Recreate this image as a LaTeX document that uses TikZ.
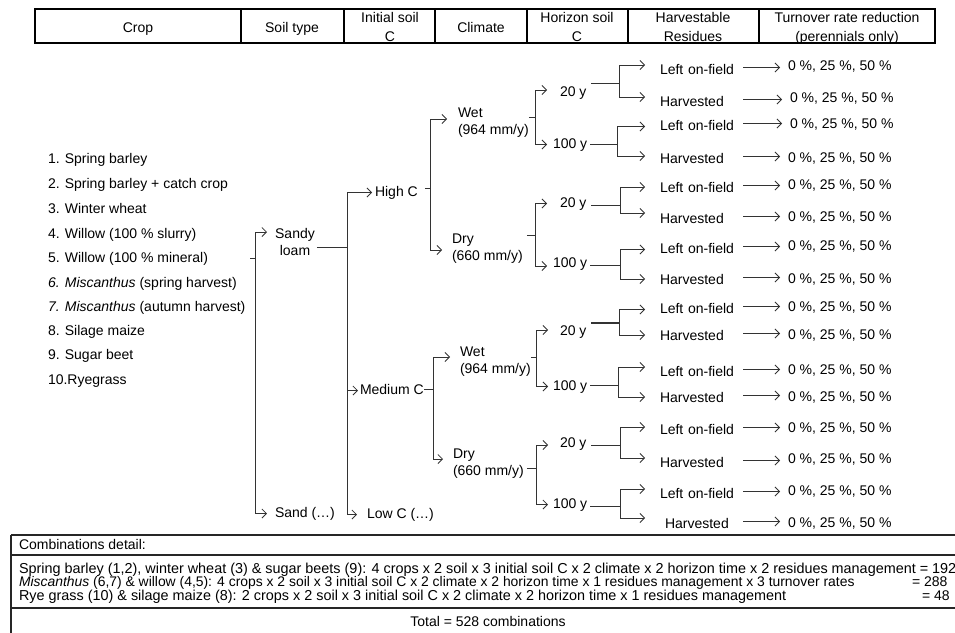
\documentclass[tikz,border=0pt]{standalone}
\usepackage{fontspec}
\setmainfont{Liberation Sans}
\usetikzlibrary{arrows.meta}
\newcommand\tzf{\fontsize{14}{17}\selectfont}
\newcommand\hzf{\fontsize{14}{19}\selectfont}
\newcommand\szf{\fontsize{14}{15}\selectfont}
\tikzset{
  ln/.style={draw=black!80, line width=0.8pt},
  arr/.style={ln, -{Straight Barb[length=4.5pt,width=9pt]}},
  lbl/.style={inner sep=0pt, outer sep=0pt, font=\tzf, text height=10pt, text depth=3pt, anchor=west},
  lbltwo/.style={inner sep=0pt, outer sep=0pt, font=\tzf, align=left, anchor=north west},
  res/.style={lbl, text width=80pt, align=left},
  hdr/.style={inner sep=0pt, outer sep=0pt, font=\hzf, align=center},
  lbls/.style={inner sep=0pt, outer sep=0pt, font=\szf, text height=10pt, text depth=3pt, anchor=west},
  frame/.style={draw=black, line width=2pt},
  boxline/.style={draw=black!85, line width=1.1pt}
}
\begin{document}
\begin{tikzpicture}[x=1pt,y=-1pt]
\useasboundingbox (0,0) rectangle (955,632);
% ---------- header ----------
\draw[frame] (35,9) rectangle (935,43);
\foreach \xx in {241,344,435,527,628,759} \draw[frame] (\xx,9) -- (\xx,43);
\node[hdr, anchor=base] (hcrop) at (138,32) {Crop};
\node[hdr, anchor=base] (hsoil) at (292,32) {Soil type};
\node[hdr, anchor=north] (hinit) at (390,12.5) {Initial soil\\C};
\node[hdr, anchor=base] (hclim) at (481,32) {Climate};
\node[hdr, anchor=north] (hhor) at (577,12.5) {Horizon soil\\C};
\node[hdr, anchor=north] (hres) at (693,12.5) {Harvestable\\Residues};
\node[hdr, anchor=north] (hturn) at (847,12.5) {Turnover rate reduction\\(perennials only)};
% ---------- crop list ----------
\node[lbl] (c1) at (48,159.5) {1. Spring barley};
\node[lbl] (c2) at (48,184.5) {2. Spring barley + catch crop};
\node[lbl] (c3) at (48,209.5) {3. Winter wheat};
\node[lbl] (c4) at (48,234.5) {4. Willow (100 \% slurry)};
\node[lbl] (c5) at (48,258.5) {5. Willow (100 \% mineral)};
\node[lbl] (c6) at (48,283.5) {\textit{6. Miscanthus} (spring harvest)};
\node[lbl] (c7) at (48,307.5) {\textit{7. Miscanthus} (autumn harvest)};
\node[lbl] (c8) at (48,331.5) {8. Silage maize};
\node[lbl] (c9) at (48,355.5) {9. Sugar beet};
\node[lbl] (c10) at (48,380.5) {10.Ryegrass};
% ---------- soil / initial C / climate nodes ----------
\node[hdr, font=\tzf, anchor=north] (sl) at (295,228) {Sandy\\loam};
\node[lbl] (sd) at (275,513.5) {Sand (…)};
\node[lbl] (hc) at (375,192.5) {High C};
\node[lbl] (mc) at (360,390.5) {Medium C};
\node[lbl] (lc) at (367,514.5) {Low C (…)};
\node[lbltwo] (w1) at (458,108) {Wet\\(964 mm/y)};
\node[lbltwo] (d1) at (452,234) {Dry\\(660 mm/y)};
\node[lbltwo] (w2) at (460,347) {Wet\\(964 mm/y)};
\node[lbltwo] (d2) at (453,449) {Dry\\(660 mm/y)};
% ---------- horizon ----------
\node[lbl] (h1) at (560,92.5) {20 y};
\node[lbl] (h2) at (553,144.5) {100 y};
\node[lbl] (h3) at (560,203.5) {20 y};
\node[lbl] (h4) at (553,263.5) {100 y};
\node[lbl] (h5) at (560,331.5) {20 y};
\node[lbl] (h6) at (553,386.5) {100 y};
\node[lbl] (h7) at (560,443.5) {20 y};
\node[lbl] (h8) at (553,504.5) {100 y};
% ---------- residues ----------
\node[res] (r1a) at (660,70.5) {Left on-field};
\node[res] (r1b) at (660,102.5) {Harvested};
\node[res] (r2a) at (660,126.5) {Left on-field};
\node[res] (r2b) at (660,159.5) {Harvested};
\node[res] (r3a) at (660,188.5) {Left on-field};
\node[res] (r3b) at (660,219.5) {Harvested};
\node[res] (r4a) at (660,249.5) {Left on-field};
\node[res] (r4b) at (660,280.5) {Harvested};
\node[res] (r5a) at (660,309.5) {Left on-field};
\node[res] (r5b) at (660,336.5) {Harvested};
\node[res] (r6a) at (660,372.5) {Left on-field};
\node[res] (r6b) at (660,398.5) {Harvested};
\node[res] (r7a) at (660,430.5) {Left on-field};
\node[res] (r7b) at (660,463.5) {Harvested};
\node[res] (r8a) at (660,494.5) {Left on-field};
\node[res, text width=75pt] (r8b) at (665,524.5) {Harvested};
% ---------- turnover ----------
\node[lbl] (p1a) at (788,66.5) {0 \%, 25 \%, 50 \%};
\node[lbl] (p1b) at (790,98.5) {0 \%, 25 \%, 50 \%};
\node[lbl] (p2a) at (790,124.5) {0 \%, 25 \%, 50 \%};
\node[lbl] (p2b) at (788,158.5) {0 \%, 25 \%, 50 \%};
\node[lbl] (p3a) at (788,185.5) {0 \%, 25 \%, 50 \%};
\node[lbl] (p3b) at (788,217.5) {0 \%, 25 \%, 50 \%};
\node[lbl] (p4a) at (788,246.5) {0 \%, 25 \%, 50 \%};
\node[lbl] (p4b) at (788,279.5) {0 \%, 25 \%, 50 \%};
\node[lbl] (p5a) at (788,307.5) {0 \%, 25 \%, 50 \%};
\node[lbl] (p5b) at (788,335.5) {0 \%, 25 \%, 50 \%};
\node[lbl] (p6a) at (788,370.5) {0 \%, 25 \%, 50 \%};
\node[lbl] (p6b) at (788,397.5) {0 \%, 25 \%, 50 \%};
\node[lbl] (p7a) at (788,428.5) {0 \%, 25 \%, 50 \%};
\node[lbl] (p7b) at (788,459.5) {0 \%, 25 \%, 50 \%};
\node[lbl] (p8a) at (788,491.5) {0 \%, 25 \%, 50 \%};
\node[lbl] (p8b) at (788,523.5) {0 \%, 25 \%, 50 \%};
% ---------- connectors: crop -> soil ----------
\coordinate (c0) at (250,258);
\coordinate (j0) at (255,258);
\coordinate (slin) at (267,232);
\draw[ln] (c0) -- (j0);
\draw[arr] (j0) |- (slin);
\draw[arr] (j0) |- ([xshift=-8pt]sd.west);
% soil -> initial C
\coordinate (j1) at (347,247);
\draw[ln] ([xshift=2pt]sl.east |- j1) -- (j1);
\draw[arr] (j1) |- ([xshift=-3pt]hc.west);
\draw[arr] (j1) |- ([xshift=-2pt]mc.west);
\draw[arr] (j1) |- ([xshift=-10pt]lc.west);
% initial C -> climate
\coordinate (j2) at (430,188);
\draw[ln] ([xshift=7pt]hc.east |- j2) -- (j2);
\draw[arr] (j2) |- ([xshift=-11pt,yshift=-11pt]w1.north west);
\draw[arr] (j2) |- ([xshift=-10pt,yshift=-16pt]d1.north west);
\coordinate (j3) at (433,389);
\draw[ln] (mc.east |- j3) -- (j3);
\draw[arr] (j3) |- ([xshift=-10pt,yshift=-10pt]w2.north west);
\draw[arr] (j3) |- ([xshift=-10pt,yshift=-10pt]d2.north west);
% climate -> horizon
\coordinate (j4) at (535,117);
\draw[ln] (w1.east |- j4) -- (j4);
\draw[arr] (j4) |- ([xshift=-13pt,yshift=2.5pt]h1.west);
\draw[arr] (j4) |- ([xshift=-6pt]h2.west);
\coordinate (j5) at (535,235);
\draw[ln] ([xshift=4pt]d1.east |- j5) -- (j5);
\draw[arr] (j5) |- ([xshift=-13pt]h3.west);
\draw[arr] (j5) |- ([xshift=-6pt,yshift=-2.5pt]h4.west);
\coordinate (j6) at (536,357);
\draw[ln] (w2.east |- j6) -- (j6);
\draw[arr] (j6) |- ([xshift=-12pt,yshift=1.5pt]h5.west);
\draw[arr] (j6) |- ([xshift=-5pt]h6.west);
\coordinate (j7) at (536,468);
\draw[ln] ([xshift=3pt]d2.east |- j7) -- (j7);
\draw[arr] (j7) |- ([xshift=-12pt,yshift=-1.5pt]h7.west);
\draw[arr] (j7) |- ([xshift=-5pt]h8.west);
% horizon -> residues
\coordinate (b1) at (619,83);
\coordinate (b2) at (617,144);
\coordinate (b3) at (620,205);
\coordinate (b4) at (620,265);
\coordinate (b5) at (619,323);
\coordinate (b6) at (618,385);
\coordinate (b7) at (620,445);
\coordinate (b8) at (620,506);
\draw[ln] ([xshift=5pt]h1.east |- b1) -- (b1);
\draw[ln] ([xshift=3pt]h2.east |- b2) -- (b2);
\draw[ln] ([xshift=5pt]h3.east |- b3) -- (b3);
\draw[ln] ([xshift=3pt]h4.east |- b4) -- (b4);
\draw[ln, line width=1.4pt] ([xshift=5pt]h5.east |- b5) -- (b5);
\draw[ln] ([xshift=3pt]h6.east |- b6) -- (b6);
\draw[ln] ([xshift=5pt]h7.east |- b7) -- (b7);
\draw[ln] ([xshift=3pt]h8.east |- b8) -- (b8);
\draw[arr] (b1) |- ([xshift=-15pt,yshift=5.5pt]r1a.west);
\draw[arr] (b1) |- ([xshift=-15pt,yshift=5.5pt]r1b.west);
\draw[arr] (b2) |- ([xshift=-15pt]r2a.west);
\draw[arr] (b2) |- ([xshift=-15pt,yshift=3.5pt]r2b.west);
\draw[arr] (b3) |- ([xshift=-15pt,yshift=1.5pt]r3a.west);
\draw[arr] (b3) |- ([xshift=-15pt,yshift=6.5pt]r3b.west);
\draw[arr] (b4) |- ([xshift=-15pt]r4a.west);
\draw[arr] (b4) |- ([xshift=-15pt,yshift=1.5pt]r4b.west);
\draw[arr] (b5) |- ([xshift=-15pt]r5a.west);
\draw[arr] (b5) |- ([xshift=-15pt,yshift=1.5pt]r5b.west);
\draw[arr] (b6) |- ([xshift=-15pt,yshift=5.5pt]r6a.west);
\draw[arr] (b6) |- ([xshift=-15pt,yshift=1.5pt]r6b.west);
\draw[arr] (b7) |- ([xshift=-15pt,yshift=3.5pt]r7a.west);
\draw[arr] (b7) |- ([xshift=-15pt,yshift=5.5pt]r7b.west);
\draw[arr] (b8) |- ([xshift=-15pt,yshift=5.5pt]r8a.west);
\draw[arr] (b8) |- ([xshift=-20pt,yshift=6.5pt]r8b.west);
% residues -> turnover
\foreach \k in {1a,1b,2a,2b,3a,3b,4a,4b,5a,5b,6a,6b,7a,7b,8a,8b}
  \draw[arr, shorten <=3pt, shorten >=8pt] ([yshift=3pt]r\k.east) -- ([yshift=3pt]r\k.east -| p\k.west);
% ---------- combinations box ----------
\draw[boxline] (11,535) -- (960,535);
\draw[boxline] (11,555) -- (960,555);
\draw[boxline] (11,608) -- (960,608);
\draw[boxline] (11,535) -- (11,640);
\node[lbls] (cd) at (19,546) {Combinations detail:};
\node[lbls, font=\fontsize{14.4}{15}\selectfont] (l1) at (19,570) {Spring barley (1,2), winter wheat (3) \& sugar beets (9): 4 crops x 2 soil x 3 initial soil C x 2 climate x 2 horizon time x 2 residues management = 192};
\node[lbls, font=\fontsize{13.9}{15}\selectfont] (l2) at (19,583) {\textit{Miscanthus} (6,7) \& willow (4,5): 4 crops x 2 soil x 3 initial soil C x 2 climate x 2 horizon time x 1 residues management x 3 turnover rates};
\node[lbls] (v2) at (912,583) {= 288};
\node[lbls, font=\fontsize{14.4}{15}\selectfont] (l3) at (19,597) {Rye grass (10) \& silage maize (8): 2 crops x 2 soil x 3 initial soil C x 2 climate x 2 horizon time x 1 residues management};
\node[lbls] (v3) at (922,597) {= 48};
\node[lbls, anchor=center] (tot) at (488,623) {Total = 528 combinations};
\end{tikzpicture}
\end{document}
